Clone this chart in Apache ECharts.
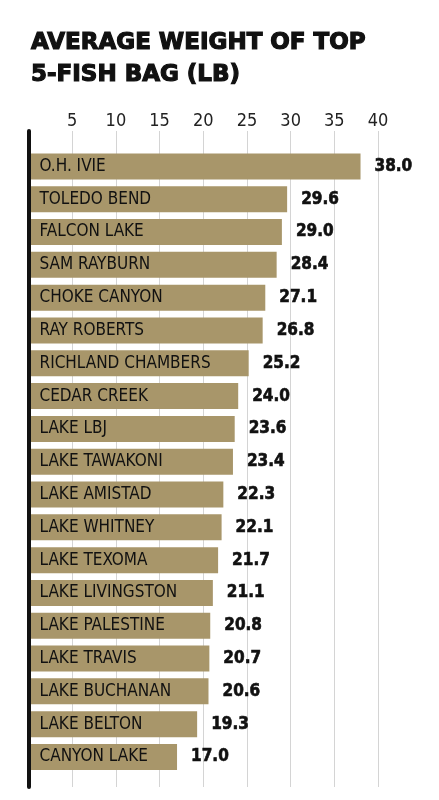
<!DOCTYPE html>
<html>
<head>
    <meta charset="utf-8">
    <title>Average weight of top 5-fish bag</title>
    <script src="https://cdn.jsdelivr.net/npm/echarts@6/dist/echarts.min.js"></script>
    <style>
        html, body { margin: 0; padding: 0; background: #fff; }
    </style>
</head>
<body>
    <div id="chart" style="width: 439px;height:800px;"></div>

    <script>
        // 数据
        const lakes = [
            'O.H. IVIE', 'TOLEDO BEND', 'FALCON LAKE', 'SAM RAYBURN', 'CHOKE CANYON',
            'RAY ROBERTS', 'RICHLAND CHAMBERS', 'CEDAR CREEK', 'LAKE LBJ', 'LAKE TAWAKONI',
            'LAKE AMISTAD', 'LAKE WHITNEY', 'LAKE TEXOMA', 'LAKE LIVINGSTON', 'LAKE PALESTINE',
            'LAKE TRAVIS', 'LAKE BUCHANAN', 'LAKE BELTON', 'CANYON LAKE'
        ];
        const weights = [
            38.0, 29.6, 29.0, 28.4, 27.1,
            26.8, 25.2, 24.0, 23.6, 23.4,
            22.3, 22.1, 21.7, 21.1, 20.8,
            20.7, 20.6, 19.3, 17.0
        ];
        const tickValues = [5, 10, 15, 20, 25, 30, 35, 40];

        const narrow = '"DejaVu Sans Condensed", sans-serif';
        const barColor = '#a8966a';

        const chart = echarts.init(document.getElementById('chart'));

        const option = {
            animation: false,
            title: {
                text: 'AVERAGE WEIGHT OF TOP\n5-FISH BAG (LB)',
                left: 26,
                top: 22,
                textStyle: {
                    fontFamily: '"DejaVu Sans", sans-serif',
                    fontWeight: 'bold',
                    fontSize: 23,
                    lineHeight: 32,
                    color: '#111',
                    textBorderColor: '#111',
                    textBorderWidth: 1.2
                }
            },
            grid: [
                // 背景网格（刻度和竖线）
                { left: 28.5, right: 61, top: 131, bottom: 13 },
                // 条形
                { left: 28.5, right: 61, top: 150, bottom: 26.6 }
            ],
            xAxis: [{
                gridIndex: 0,
                type: 'value',
                position: 'top',
                min: 0,
                max: 40,
                interval: 5,
                axisLine: { show: false },
                axisTick: { show: false },
                axisLabel: {
                    margin: 1,
                    fontFamily: narrow,
                    fontSize: 18,
                    color: '#222',
                    formatter: v => tickValues.includes(v) ? String(v) : ''
                },
                splitLine: { lineStyle: { color: '#d4d4d4', width: 1 } }
            }, {
                gridIndex: 1,
                type: 'value',
                min: 0,
                max: 40,
                show: false
            }],
            yAxis: [{
                gridIndex: 0,
                type: 'value',
                min: 0,
                max: 1,
                axisLine: { show: true, lineStyle: { color: '#111', width: 4 } },
                axisTick: { show: false },
                axisLabel: { show: false },
                splitLine: { show: false },
                z: 5
            }, {
                gridIndex: 1,
                type: 'category',
                inverse: true,
                data: lakes,
                show: false
            }],
            series: [{
                type: 'bar',
                xAxisIndex: 1,
                yAxisIndex: 1,
                data: weights,
                barWidth: 26,
                itemStyle: { color: barColor },
                label: {
                    show: true,
                    position: 'insideLeft',
                    distance: 11,
                    formatter: '{b}',
                    fontFamily: narrow,
                    fontSize: 17,
                    color: '#111'
                }
            }, {
                type: 'bar',
                xAxisIndex: 1,
                yAxisIndex: 1,
                data: weights,
                barWidth: 26,
                barGap: '-100%',
                itemStyle: { color: 'rgba(0,0,0,0)' },
                label: {
                    show: true,
                    position: 'right',
                    distance: 14,
                    formatter: p => p.value.toFixed(1),
                    fontFamily: '"DejaVu Sans Condensed", "DejaVu Sans", sans-serif',
                    fontWeight: 'bold',
                    fontSize: 17,
                    color: '#111',
                    textBorderColor: '#111',
                    textBorderWidth: 0.6
                },
                silent: true
            }]
        };

        chart.setOption(option);

        window.addEventListener('resize', function () {
            chart.resize();
        });
    </script>
</body>
</html>
